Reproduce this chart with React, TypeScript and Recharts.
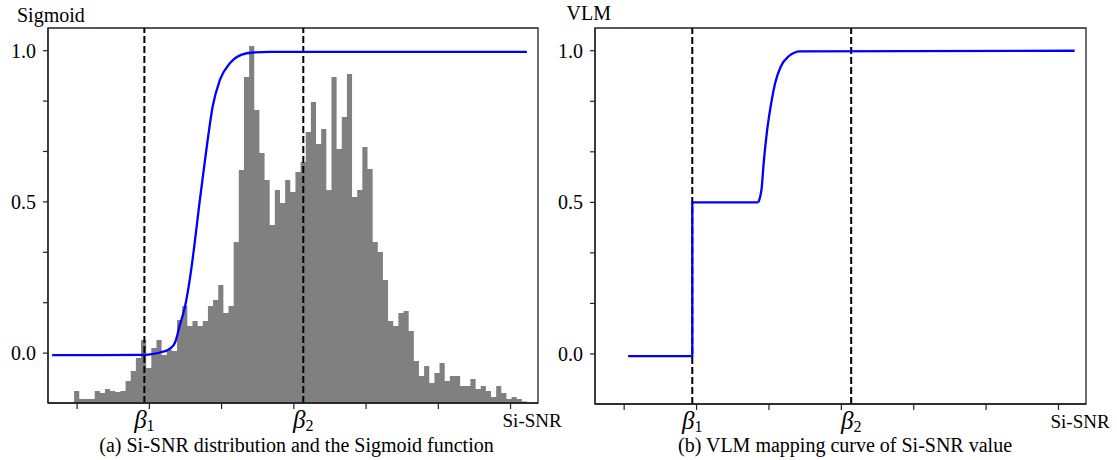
import React from 'react';
import { ComposedChart, Line, Area, XAxis, YAxis, ReferenceLine, ReferenceArea } from 'recharts';

// ---------- data ----------
// histogram bar heights (88 equal-width bins, arbitrary count units)
const histHeights = [
  12, 4, 4, 4, 12, 10, 14, 12, 11, 12,
  22, 32, 45, 63, 35, 55, 63, 48, 53, 52,
  83, 97, 77, 82, 77, 82, 97, 103, 118, 90,
  97, 161, 233, 326, 357, 293, 250, 223, 178, 213,
  200, 223, 211, 231, 241, 271, 301, 259, 274, 213,
  326, 254, 286, 329, 206, 213, 256, 234, 161, 151,
  123, 82, 77, 90, 92, 72, 42, 27, 37, 20,
  30, 40, 22, 27, 27, 17, 17, 24, 14, 17,
  12, 6, 17, 10, 4, 6, 4, 1.5,
];
const histStart = -0.0415;
const histBinWidth = 0.07125;

// sigmoid curve (left panel)
const sigmoidX = [-0.346, 0.318, 0.872, 1.01, 1.148, 1.287, 1.356, 1.425, 1.494, 1.573, 1.633, 1.688, 1.747, 1.808, 1.877, 1.978, 2.117, 2.279, 2.435, 2.67, 6.226];
const sigmoidY = [-0.007, -0.007, -0.006, -0.004, 0.002, 0.015, 0.035, 0.095, 0.154, 0.265, 0.375, 0.485, 0.595, 0.706, 0.816, 0.904, 0.959, 0.987, 0.994, 0.996, 0.996];

// VLM mapping curve (right panel): step part and smooth part
const vlmStepX = [0.055, 0.941, 0.941, 1.854];
const vlmStepY = [-0.007, -0.007, 0.5, 0.5];
const vlmCurveX = [1.854, 1.901, 1.923, 1.97, 2.039, 2.085, 2.164, 2.269, 2.431, 6.222];
const vlmCurveY = [0.5, 0.55, 0.618, 0.728, 0.838, 0.893, 0.948, 0.981, 0.998, 1.0];

// axes
const xTicks = [0, 1, 2, 3, 4, 5, 6];
const xEndLabel = 'Si-SNR';
const yTicks = [0, 1 / 6, 2 / 6, 0.5, 4 / 6, 5 / 6, 1];
const yLabelled = [0, 0.5, 1];
const leftMarkers = [0.931, 3.131];
const rightMarkers = [0.941, 3.136];
const markerSubs = ['1', '2'];
const leftTitle = 'Sigmoid';
const rightTitle = 'VLM';
const leftCaption = '(a) Si-SNR distribution and the Sigmoid function';
const rightCaption = '(b) VLM mapping curve of Si-SNR value';

// ---------- derived tables ----------
const histData = histHeights
  .map((h, i) => ({ x: histStart + i * histBinWidth, count: h }))
  .concat([{ x: histStart + histHeights.length * histBinWidth, count: histHeights[histHeights.length - 1] }]);
const sigmoidData = sigmoidX.map((x, i) => ({ x, y: sigmoidY[i] }));
const vlmStepData = vlmStepX.map((x, i) => ({ x, y: vlmStepY[i] }));
const vlmCurveData = vlmCurveX.map((x, i) => ({ x, y: vlmCurveY[i] }));

const FONT = 'Liberation Serif';
const AX = '#222';
const X_DOMAIN: [number, number] = [-0.403, 6.38];
const Y_DOMAIN: [number, number] = [-0.165, 1.075];

function MarkerLabel(props: any) {
  const { viewBox, sub } = props;
  if (!viewBox) return null;
  const x = viewBox.x;
  const y = viewBox.y + viewBox.height + 24.5;
  return (
    <text x={x} y={y} textAnchor="middle" style={{ fontFamily: FONT }} fill="#000">
      <tspan fontStyle="italic" fontSize={25}>β</tspan>
      <tspan fontSize={16} dy={3.5}>{sub}</tspan>
    </text>
  );
}

function XTick(props: any) {
  const { x, y, payload } = props;
  const isEnd = Number(payload?.value) === xTicks[xTicks.length - 1];
  if (!isEnd) return <g />;
  return (
    <text x={Number(x) - 8} y={Number(y) + 16} textAnchor="start" style={{ fontFamily: FONT }} fontSize={19} fill="#000">
      {xEndLabel}
    </text>
  );
}

const yFmt = (v: number) => (yLabelled.some((l) => Math.abs(l - v) < 1e-6) ? v.toFixed(1) : '');

function commonAxes() {
  return [
    <XAxis
      key="x"
      dataKey="x"
      type="number"
      domain={X_DOMAIN}
      allowDataOverflow
      ticks={xTicks}
      interval={0}
      tickSize={6}
      tickMargin={2}
      tick={(p: any) => <XTick {...p} />}
      tickLine={{ stroke: AX, strokeWidth: 1.2 }}
      axisLine={{ stroke: AX, strokeWidth: 1.3 }}
      height={30}
    />,
    <YAxis
      key="y"
      type="number"
      domain={Y_DOMAIN}
      allowDataOverflow
      ticks={yTicks}
      interval={0}
      tickSize={5}
      tickMargin={7}
      tickFormatter={yFmt}
      tick={{ fontSize: 20, style: { fontFamily: FONT }, fill: '#000' }}
      tickLine={{ stroke: AX, strokeWidth: 1.2 }}
      axisLine={{ stroke: AX, strokeWidth: 1.3 }}
      width={48}
    />,
  ];
}

const frame = () => (
  <ReferenceArea x1={X_DOMAIN[0]} x2={X_DOMAIN[1]} y1={Y_DOMAIN[0]} y2={Y_DOMAIN[1]} fill="none" fillOpacity={0} stroke={AX} strokeWidth={1.3} ifOverflow="visible" />
);

export default function App() {
  return (
    <div style={{ position: 'absolute', left: 0, top: 0, width: 1117, height: 460, background: '#fff' }}>
      <div style={{ position: 'absolute', left: 0, top: 0 }}>
        <ComposedChart width={580} height={460} margin={{ top: 28, right: 42, bottom: 27, left: 0 }}>
          {commonAxes()}
          <YAxis yAxisId="hist" hide type="number" domain={[0, 375]} allowDataOverflow />
          <Area
            yAxisId="hist"
            data={histData}
            dataKey="count"
            type="stepAfter"
            stroke="none"
            fill="#808080"
            fillOpacity={1}
            dot={false}
            activeDot={false}
            isAnimationActive={false}
          />
          {leftMarkers.map((m, i) => (
            <ReferenceLine key={'l' + i} x={m} stroke="#000" strokeWidth={2} strokeDasharray="7 3" label={<MarkerLabel sub={markerSubs[i]} />} />
          ))}
          <Line data={sigmoidData} dataKey="y" type="monotone" stroke="#0000ff" strokeWidth={2.3} dot={false} activeDot={false} isAnimationActive={false} />
          {frame()}
        </ComposedChart>
      </div>
      <div style={{ position: 'absolute', left: 547, top: 0 }}>
        <ComposedChart width={570} height={460} margin={{ top: 28, right: 31, bottom: 26, left: 0 }}>
          {commonAxes()}
          {rightMarkers.map((m, i) => (
            <ReferenceLine key={'r' + i} x={m} stroke="#000" strokeWidth={2} strokeDasharray="7 3" label={<MarkerLabel sub={markerSubs[i]} />} />
          ))}
          <Line data={vlmStepData} dataKey="y" type="linear" stroke="#0000ff" strokeWidth={2.3} dot={false} activeDot={false} isAnimationActive={false} />
          <Line data={vlmCurveData} dataKey="y" type="monotone" stroke="#0000ff" strokeWidth={2.3} dot={false} activeDot={false} isAnimationActive={false} />
          {frame()}
        </ComposedChart>
      </div>
      <svg width={1117} height={460} style={{ position: 'absolute', left: 0, top: 0, pointerEvents: 'none' }}>
        <g style={{ fontFamily: FONT }} fill="#000" fontSize={20}>
          <text x={17} y={21.5}>{leftTitle}</text>
          <text x={566.5} y={20}>{rightTitle}</text>
          <text x={296.5} y={452} textAnchor="middle">{leftCaption}</text>
          <text x={845} y={452} textAnchor="middle">{rightCaption}</text>
        </g>
      </svg>
    </div>
  );
}
